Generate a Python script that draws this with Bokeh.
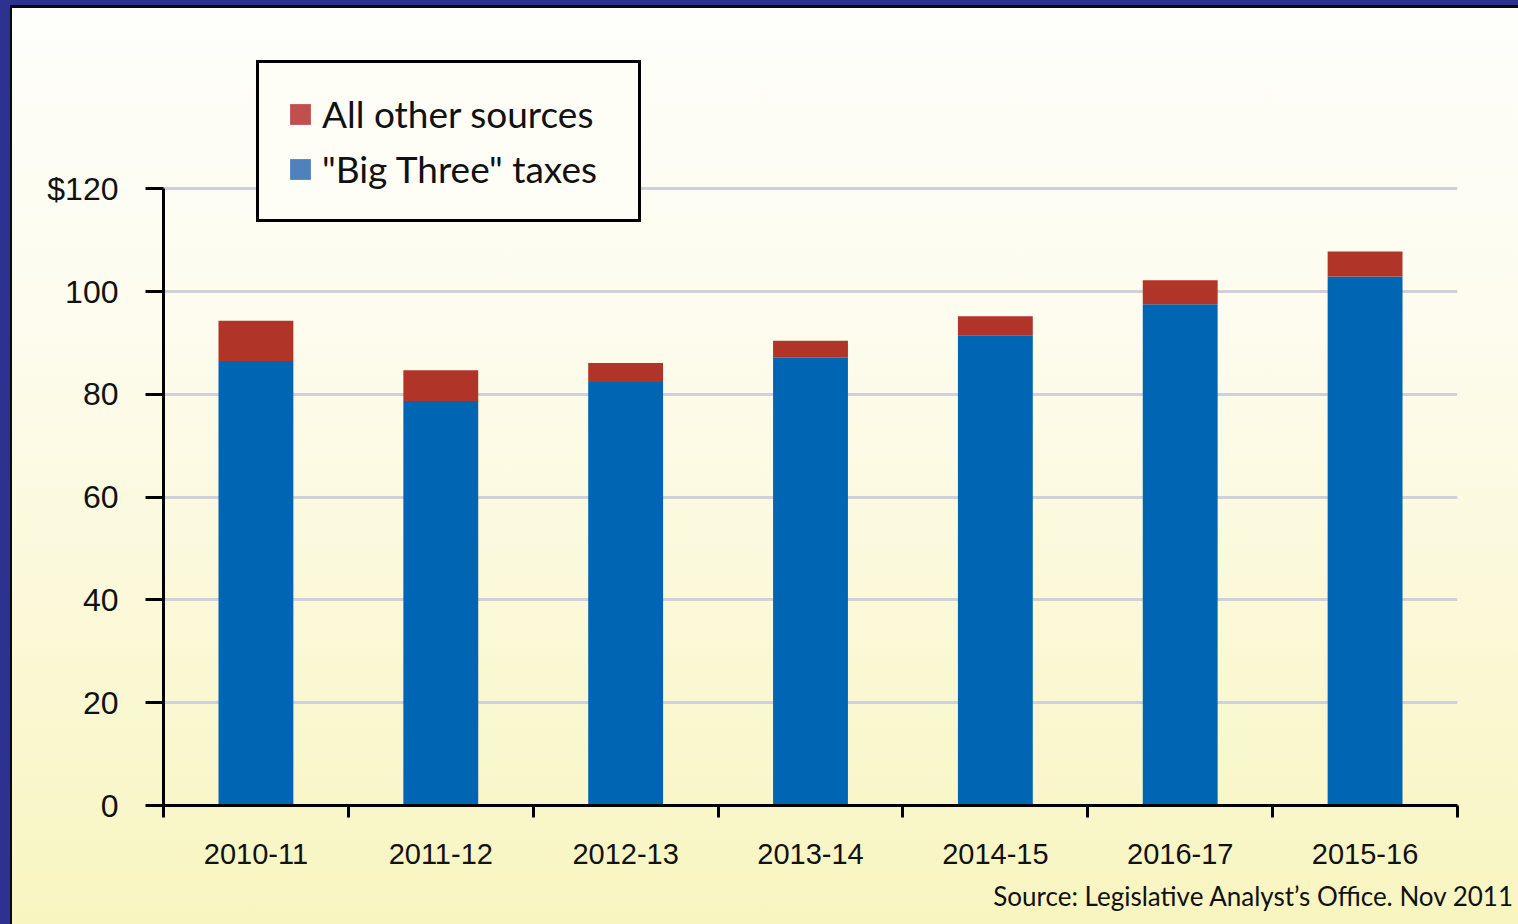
from bokeh.plotting import figure
from bokeh.models import ColumnDataSource, FixedTicker, Legend, LegendItem, Title
from bokeh.embed import file_html
from bokeh.resources import INLINE
import numpy as np

# ---- data ----
categories = ["2010-11", "2011-12", "2012-13", "2013-14", "2014-15", "2016-17", "2015-16"]
big_three = [86.5, 78.7, 82.4, 87.1, 91.5, 97.5, 102.9]
all_other = [7.8, 6.0, 3.7, 3.3, 3.7, 4.7, 4.9]
y_ticks = [0, 20, 40, 60, 80, 100, 120]
y_tick_labels = ["0", "20", "40", "60", "80", "100", "$120"]
source_note = "Source: Legislative Analyst\u2019s Office. Nov 2011"

BLUE = "#0066b3"
RED = "#b03428"
LEG_BLUE = "#4f81bd"
LEG_RED = "#c0504d"

n = len(categories)
x = np.arange(n) + 0.5
totals = [b + o for b, o in zip(big_three, all_other)]
src = ColumnDataSource(dict(x=x, cat=categories, big=big_three, other=all_other, top=totals))

p = figure(width=1518, height=924, x_range=(0, n), y_range=(0, 150),
           output_backend="svg", toolbar_location=None,
           min_border_left=163, min_border_right=61, min_border_top=34, min_border_bottom=119)
p.styles = {"background": "linear-gradient(to bottom, #fefefb 0%, #fdfcee 35%, #f8f5c0 100%)",
            "box-shadow": "inset 10px 5px 0 #2d3190, inset 12px 8px 0 #0a0a0a"}
p.border_fill_alpha = 0
p.background_fill_alpha = 0
p.outline_line_color = None

bw = 0.405
r_big = p.vbar(x="x", bottom=0, top="big", width=bw, source=src, fill_color=BLUE, line_color=None)
r_oth = p.vbar(x="x", bottom="big", top="top", width=bw, source=src, fill_color=RED, line_color=None)

# zero-height proxies carrying the lighter legend swatch colours
l_red = p.vbar(x="x", bottom=0, top=0, width=bw, source=src, fill_color=LEG_RED, line_color=None)
l_blue = p.vbar(x="x", bottom=0, top=0, width=bw, source=src, fill_color=LEG_BLUE, line_color=None)

# axes
xa = p.xaxis[0]
xa.ticker = FixedTicker(ticks=list(x), minor_ticks=list(range(n + 1)))
xa.major_label_overrides = {float(v): c for v, c in zip(x, categories)}
xa.major_tick_in = 0
xa.major_tick_out = 0
xa.minor_tick_in = 0
xa.minor_tick_out = 12
xa.minor_tick_line_width = 3
xa.minor_tick_line_color = "black"
xa.axis_line_width = 3
xa.axis_line_color = "black"
xa.major_label_text_font = "Liberation Sans"
xa.major_label_text_font_size = "29px"
xa.major_label_text_color = "#111111"
xa.major_label_standoff = 26

ya = p.yaxis[0]
ya.ticker = FixedTicker(ticks=y_ticks, minor_ticks=[])
ya.major_label_overrides = {v: s for v, s in zip(y_ticks, y_tick_labels)}
ya.bounds = (0, 120)
ya.major_tick_in = 0
ya.major_tick_out = 18
ya.major_tick_line_width = 3
ya.axis_line_width = 3
ya.axis_line_color = "black"
ya.major_label_text_font = "Liberation Sans"
ya.major_label_text_font_size = "32px"
ya.major_label_text_color = "#111111"
ya.major_label_standoff = 27

p.xgrid.visible = False
p.ygrid.ticker = FixedTicker(ticks=y_ticks)
p.ygrid.grid_line_color = "#d0d0da"
p.ygrid.grid_line_width = 3

legend = Legend(items=[LegendItem(label="All other sources", renderers=[l_red]),
                       LegendItem(label="\"Big Three\" taxes", renderers=[l_blue])],
                location=(93, 583))
legend.label_text_font = "Lato"
legend.label_text_font_size = "37px"
legend.label_text_color = "#111111"
legend.glyph_width = 26
legend.glyph_height = 26
legend.label_height = 44
legend.label_width = 288
legend.label_standoff = 9
legend.spacing = 10
legend.padding = 28
legend.margin = 0
legend.border_line_color = "black"
legend.border_line_alpha = 1
legend.border_line_width = 3
legend.background_fill_color = "#fefef6"
legend.background_fill_alpha = 1
p.add_layout(legend, "center")

note = Title(text=source_note, align="right", offset=-57, standoff=22,
             text_font="Lato", text_font_size="26px", text_font_style="normal",
             text_color="#111111")
p.add_layout(note, "below")

open("out.html", "w").write(file_html(p, INLINE))
